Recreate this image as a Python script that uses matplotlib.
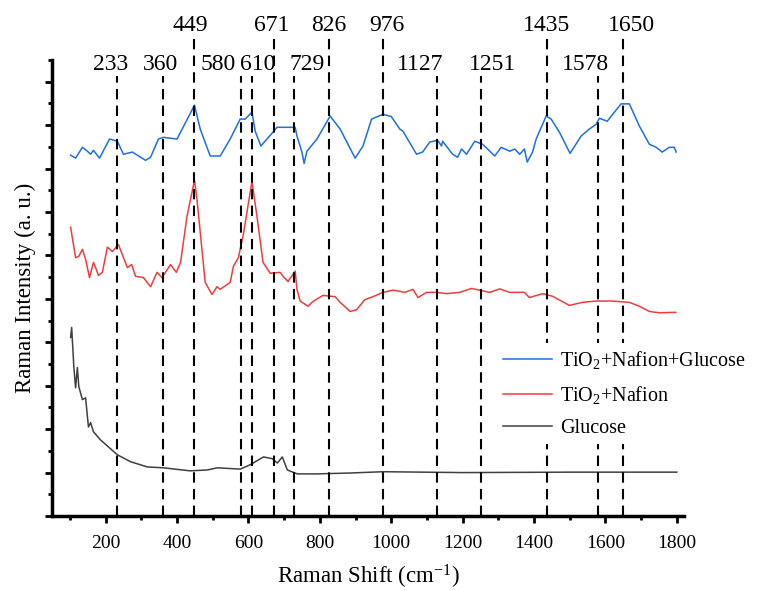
import matplotlib
matplotlib.use("Agg")
import matplotlib.pyplot as plt
from matplotlib.ticker import MultipleLocator, NullFormatter

plt.rcParams['font.family'] = ['Liberation Serif', 'DejaVu Serif']
plt.rcParams['mathtext.fontset'] = 'custom'
plt.rcParams['mathtext.rm'] = 'Liberation Serif'

# TiO2 + Nafion + Glucose (blue, offset)
wn_blue = [102, 116, 135, 149, 158, 166, 183, 211, 233, 250, 275, 312, 326, 348, 362, 400,
           449, 465, 493, 521, 549, 577, 591, 610, 619, 635, 652, 669, 680, 731, 736, 750,
           756, 764, 792, 829, 857, 899, 921, 945, 977, 1000, 1024, 1033, 1071, 1088, 1108,
           1130, 1141, 1144, 1172, 1186, 1197, 1211, 1234, 1256, 1290, 1308, 1332, 1346,
           1360, 1373, 1381, 1396, 1406, 1434, 1448, 1471, 1501, 1532, 1555, 1574, 1583,
           1605, 1644, 1667, 1695, 1723, 1742, 1759, 1779, 1793, 1798]
i_blue = [8.31, 8.24, 8.49, 8.40, 8.33, 8.42, 8.24, 8.68, 8.63, 8.33, 8.38, 8.19, 8.26, 8.68,
          8.72, 8.68, 9.46, 8.91, 8.29, 8.29, 8.68, 9.14, 9.14, 9.30, 8.86, 8.52, 8.68, 8.84,
          8.95, 8.95, 8.75, 8.38, 8.12, 8.40, 8.68, 9.21, 8.91, 8.24, 8.52, 9.14, 9.25, 9.20,
          8.91, 8.86, 8.33, 8.38, 8.61, 8.65, 8.52, 8.63, 8.33, 8.26, 8.45, 8.33, 8.63, 8.56,
          8.29, 8.49, 8.40, 8.45, 8.33, 8.45, 8.15, 8.38, 8.68, 9.21, 9.14, 8.84, 8.35, 8.75,
          8.91, 9.02, 9.16, 9.09, 9.49, 9.49, 8.98, 8.56, 8.49, 8.38, 8.49, 8.49, 8.38]

# TiO2 + Nafion (red, offset)
wn_red = [102, 116, 125, 135, 144, 155, 166, 172, 180, 191, 205, 219, 236, 261, 273, 284,
          306, 326, 344, 358, 382, 398, 410, 428, 449, 456, 479, 498, 512, 521, 549, 558,
          572, 586, 610, 624, 641, 661, 689, 697, 711, 731, 736, 745, 767, 781, 809, 843,
          857, 885, 903, 926, 949, 977, 1005, 1019, 1038, 1061, 1075, 1099, 1127, 1155,
          1192, 1225, 1248, 1276, 1304, 1332, 1373, 1387, 1424, 1452, 1499, 1536, 1574,
          1619, 1667, 1695, 1723, 1751, 1797]
i_red = [6.65, 5.95, 5.98, 6.14, 5.91, 5.49, 5.84, 5.72, 5.54, 5.61, 6.19, 6.09, 6.25, 5.72,
         5.79, 5.52, 5.49, 5.28, 5.61, 5.49, 5.79, 5.61, 5.84, 6.90, 7.73, 7.29, 5.38, 5.10,
         5.28, 5.22, 5.38, 5.75, 5.95, 6.49, 7.71, 6.90, 5.84, 5.59, 5.61, 5.52, 5.40, 5.64,
         5.22, 4.95, 4.83, 4.94, 5.08, 5.05, 4.92, 4.71, 4.75, 4.98, 5.05, 5.15, 5.20, 5.18,
         5.15, 5.22, 5.03, 5.15, 5.15, 5.12, 5.15, 5.24, 5.20, 5.15, 5.23, 5.15, 5.15, 5.03,
         5.12, 5.06, 4.85, 4.92, 4.95, 4.95, 4.92, 4.83, 4.71, 4.68, 4.69]

# Glucose (grey)
wn_glu = [102, 105, 111, 116, 121, 125, 135, 144, 152, 158, 166, 186, 233, 270, 317, 362,
          437, 485, 513, 577, 605, 642, 667, 681, 695, 709, 737, 792, 885, 977, 1200, 1500, 1800]
i_glu = [4.11, 4.34, 3.44, 2.95, 3.42, 2.98, 2.68, 2.72, 2.05, 2.15, 1.94, 1.75, 1.41, 1.25,
         1.13, 1.11, 1.04, 1.06, 1.11, 1.08, 1.18, 1.36, 1.32, 1.22, 1.36, 1.06, 0.97, 0.97,
         0.99, 1.02, 1.00, 1.01, 1.01]

# marked bands: upper row and lower row of labels
peaks_high = [449, 671, 826, 976, 1435, 1650]
peaks_low = [233, 360, 580, 610, 729, 1127, 1251, 1578]
# where each label text sits (shifted a little so they don't collide)
label_x = {233: 215, 360: 355, 449: 436, 580: 514, 610: 627, 671: 664, 729: 764,
           826: 824, 976: 988, 1127: 1080, 1251: 1285, 1435: 1436, 1578: 1545, 1650: 1672}

fig = plt.figure(figsize=(7.79, 5.90), dpi=100)
ax = fig.add_axes([0.0668, 0.1254, 0.8112, 0.7729])

ax.plot(wn_blue, i_blue, color='#1f6fe0', lw=1.1, label=r'TiO$\mathregular{_2}$+Nafion+Glucose')
ax.plot(wn_red, i_red, color='#f03c3c', lw=1.1, label=r'TiO$\mathregular{_2}$+Nafion')
ax.plot(wn_glu, i_glu, color='#404040', lw=1.1, label='Glucose')

for p in peaks_high:
    ax.plot([p, p], [0, 11.08], color='black', lw=1.5, ls=(0, (5, 3)), clip_on=False, zorder=3)
    ax.text(label_x[p], 11.17, str(p), ha='center', va='baseline', fontsize=17, clip_on=False)
for p in peaks_low:
    ax.plot([p, p], [0, 10.13], color='black', lw=1.5, ls=(0, (5, 3)), clip_on=False, zorder=3)
    ax.text(label_x[p], 10.28, str(p), ha='center', va='baseline', fontsize=17, clip_on=False)

ax.set_xlim(50, 1820)
ax.set_ylim(0, 10.5)
ax.xaxis.set_major_locator(MultipleLocator(200))
ax.xaxis.set_minor_locator(MultipleLocator(100))
ax.yaxis.set_major_locator(MultipleLocator(1))
ax.yaxis.set_minor_locator(MultipleLocator(0.5))
ax.yaxis.set_major_formatter(NullFormatter())
ax.tick_params(which='major', direction='out', length=5, width=2, labelsize=14, pad=8.5)
ax.tick_params(which='minor', direction='out', length=3, width=2)
ax.set_xticks([200, 400, 600, 800, 1000, 1200, 1400, 1600, 1800])

for s in ['top', 'right']:
    ax.spines[s].set_visible(False)
for s in ['left', 'bottom']:
    ax.spines[s].set_linewidth(2.5)

ax.set_xlabel(r'Raman Shift (cm$\mathregular{^{-1}}$)', fontsize=16.5, labelpad=8)
ax.set_ylabel('Raman Intensity (a. u.)', fontsize=16.5, labelpad=-2)

leg = ax.legend(loc='upper left', bbox_to_anchor=(0.625, 0.435), bbox_transform=fig.transFigure,
                fontsize=14.5, frameon=True, edgecolor='none', facecolor='white', framealpha=1,
                handlelength=2.45, handletextpad=0.4, labelspacing=0.64, borderpad=0.3)
leg.set_zorder(5)

fig.savefig('out.png', dpi=100)
